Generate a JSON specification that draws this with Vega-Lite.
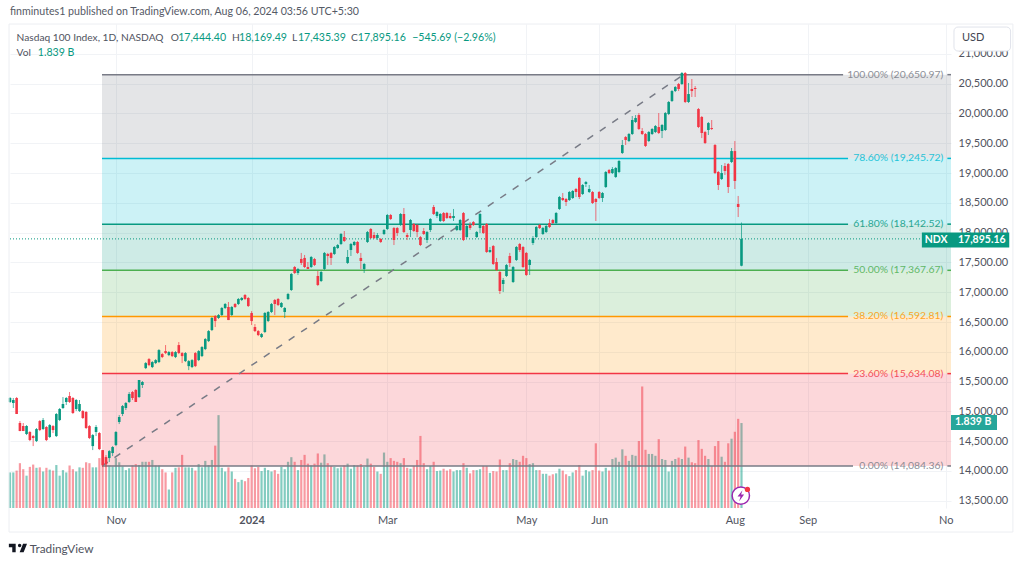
{"$schema":"https://vega.github.io/schema/vega-lite/v6.json","width":941,"height":484,"autosize":{"type":"none"},"padding":{"left":10,"top":24,"right":73,"bottom":56},"background":"#ffffff","config":{"view":{"stroke":null},"font":"Lato"},"title":{"text":"finminutes1 published on TradingView.com, Aug 06, 2024 03:56 UTC+5:30","anchor":"start","frame":"group","font":"Lato","fontSize":10.65,"fontWeight":"normal","color":"#555a66","offset":6},
"datasets":{"bars":[
{"bar":0,"open":15158,"high":15241,"low":15141,"close":15225,"volume":0.77},{"bar":1,"open":15141,"high":15225,"low":15057,"close":15191,"volume":0.77},{"bar":2,"open":15225,"high":15241,"low":14956,"close":14956,"volume":0.81},{"bar":3,"open":14805,"high":14838,"low":14670,"close":14670,"volume":0.97},{"bar":4,"open":14754,"high":14805,"low":14670,"close":14670,"volume":0.84},{"bar":5,"open":14620,"high":14771,"low":14603,"close":14754,"volume":0.7},{"bar":6,"open":14654,"high":14670,"low":14502,"close":14519,"volume":0.89},{"bar":7,"open":14586,"high":14603,"low":14418,"close":14553,"volume":0.94},{"bar":8,"open":14502,"high":14721,"low":14486,"close":14704,"volume":0.87},{"bar":9,"open":14838,"high":14855,"low":14670,"close":14687,"volume":0.88},
{"bar":10,"open":14704,"high":14889,"low":14687,"close":14855,"volume":0.79},{"bar":11,"open":14738,"high":14754,"low":14502,"close":14519,"volume":0.87},{"bar":12,"open":14570,"high":14788,"low":14553,"close":14771,"volume":0.83},{"bar":13,"open":14754,"high":14771,"low":14637,"close":14687,"volume":0.81},{"bar":14,"open":14586,"high":14973,"low":14570,"close":14956,"volume":0.93},{"bar":15,"open":14855,"high":15057,"low":14838,"close":15040,"volume":0.7},{"bar":16,"open":15057,"high":15241,"low":15040,"close":15124,"volume":0.82},{"bar":17,"open":15158,"high":15241,"low":15107,"close":15225,"volume":0.77},{"bar":18,"open":15258,"high":15325,"low":15141,"close":15158,"volume":0.92},{"bar":19,"open":15225,"high":15241,"low":14956,"close":14973,"volume":0.84},
{"bar":20,"open":15040,"high":15208,"low":15006,"close":15191,"volume":0.79},{"bar":21,"open":15006,"high":15191,"low":14990,"close":15124,"volume":0.88},{"bar":22,"open":15006,"high":15023,"low":14872,"close":14889,"volume":0.87},{"bar":23,"open":14990,"high":15006,"low":14704,"close":14721,"volume":0.99},{"bar":24,"open":14754,"high":14771,"low":14536,"close":14553,"volume":0.97},{"bar":25,"open":14418,"high":14620,"low":14351,"close":14603,"volume":0.88},{"bar":26,"open":14654,"high":14771,"low":14586,"close":14738,"volume":0.88},{"bar":27,"open":14637,"high":14654,"low":14351,"close":14368,"volume":1.08},{"bar":28,"open":14351,"high":14351,"low":14065,"close":14099,"volume":1.24},{"bar":29,"open":14234,"high":14267,"low":14065,"close":14116,"volume":1.02},
{"bar":30,"open":14217,"high":14351,"low":14150,"close":14334,"volume":0.92},{"bar":31,"open":14301,"high":14418,"low":14250,"close":14402,"volume":0.9},{"bar":32,"open":14435,"high":14670,"low":14418,"close":14654,"volume":1.08},{"bar":33,"open":14822,"high":14939,"low":14788,"close":14906,"volume":0.99},{"bar":34,"open":14956,"high":15107,"low":14922,"close":15090,"volume":0.9},{"bar":35,"open":15057,"high":15158,"low":15023,"close":15141,"volume":0.82},{"bar":36,"open":15158,"high":15325,"low":15141,"close":15292,"volume":0.86},{"bar":37,"open":15325,"high":15342,"low":15191,"close":15225,"volume":0.92},{"bar":38,"open":15359,"high":15376,"low":15158,"close":15158,"volume":0.95},{"bar":39,"open":15241,"high":15527,"low":15225,"close":15527,"volume":0.93},
{"bar":40,"open":15443,"high":15510,"low":15393,"close":15493,"volume":1.0},{"bar":41,"open":15727,"high":15828,"low":15710,"close":15811,"volume":1.0},{"bar":42,"open":15878,"high":15895,"low":15760,"close":15777,"volume":1.0},{"bar":43,"open":15744,"high":15844,"low":15727,"close":15828,"volume":1.04},{"bar":44,"open":15811,"high":15878,"low":15794,"close":15861,"volume":0.92},{"bar":45,"open":15828,"high":16046,"low":15811,"close":16029,"volume":0.92},{"bar":46,"open":15962,"high":15979,"low":15895,"close":15912,"volume":0.84},{"bar":47,"open":16012,"high":16113,"low":15962,"close":15979,"volume":0.77},{"bar":48,"open":15945,"high":16012,"low":15928,"close":15996,"volume":0.4},{"bar":49,"open":15996,"high":16012,"low":15912,"close":15928,"volume":0.77},
{"bar":50,"open":15912,"high":16012,"low":15895,"close":15996,"volume":0.87},{"bar":51,"open":16113,"high":16164,"low":15962,"close":15979,"volume":0.88},{"bar":52,"open":15979,"high":15996,"low":15811,"close":15928,"volume":1.15},{"bar":53,"open":15844,"high":15996,"low":15828,"close":15979,"volume":0.88},{"bar":54,"open":15760,"high":15861,"low":15693,"close":15844,"volume":0.88},{"bar":55,"open":15744,"high":15878,"low":15727,"close":15861,"volume":0.87},{"bar":56,"open":15979,"high":15996,"low":15744,"close":15760,"volume":0.81},{"bar":57,"open":15861,"high":16029,"low":15844,"close":16012,"volume":0.95},{"bar":58,"open":15928,"high":16096,"low":15912,"close":16080,"volume":0.88},{"bar":59,"open":16046,"high":16231,"low":16029,"close":16214,"volume":1.02},
{"bar":60,"open":16180,"high":16365,"low":16164,"close":16348,"volume":0.93},{"bar":61,"open":16365,"high":16584,"low":16348,"close":16567,"volume":1.04},{"bar":62,"open":16600,"high":16617,"low":16416,"close":16516,"volume":1.35},{"bar":63,"open":16567,"high":16634,"low":16550,"close":16617,"volume":2.01},{"bar":64,"open":16617,"high":16752,"low":16600,"close":16735,"volume":0.87},{"bar":65,"open":16735,"high":16819,"low":16718,"close":16802,"volume":0.79},{"bar":66,"open":16752,"high":16836,"low":16533,"close":16533,"volume":0.88},{"bar":67,"open":16617,"high":16768,"low":16600,"close":16752,"volume":0.79},{"bar":68,"open":16802,"high":16819,"low":16735,"close":16752,"volume":0.63},{"bar":69,"open":16802,"high":16903,"low":16785,"close":16886,"volume":0.56},
{"bar":70,"open":16869,"high":16920,"low":16852,"close":16903,"volume":0.61},{"bar":71,"open":16953,"high":16970,"low":16869,"close":16886,"volume":0.58},{"bar":72,"open":16903,"high":16920,"low":16752,"close":16768,"volume":0.65},{"bar":73,"open":16651,"high":16684,"low":16449,"close":16516,"volume":0.92},{"bar":74,"open":16416,"high":16466,"low":16332,"close":16348,"volume":0.86},{"bar":75,"open":16348,"high":16365,"low":16264,"close":16281,"volume":0.89},{"bar":76,"open":16248,"high":16315,"low":16231,"close":16298,"volume":0.8},{"bar":77,"open":16332,"high":16668,"low":16315,"close":16651,"volume":0.87},{"bar":78,"open":16516,"high":16684,"low":16500,"close":16668,"volume":0.82},{"bar":79,"open":16668,"high":16819,"low":16651,"close":16802,"volume":0.79},
{"bar":80,"open":16869,"high":16886,"low":16617,"close":16802,"volume":0.82},{"bar":81,"open":16886,"high":16903,"low":16768,"close":16785,"volume":0.74},{"bar":82,"open":16752,"high":16836,"low":16735,"close":16819,"volume":0.89},{"bar":83,"open":16668,"high":16752,"low":16567,"close":16735,"volume":0.84},{"bar":84,"open":16886,"high":16987,"low":16869,"close":16970,"volume":1.0},{"bar":85,"open":17037,"high":17323,"low":17020,"close":17306,"volume":1.1},{"bar":86,"open":17423,"high":17440,"low":17306,"close":17323,"volume":1.0},{"bar":87,"open":17323,"high":17407,"low":17289,"close":17390,"volume":0.82},{"bar":88,"open":17558,"high":17659,"low":17457,"close":17491,"volume":1.04},{"bar":89,"open":17575,"high":17625,"low":17406,"close":17423,"volume":1.15},
{"bar":90,"open":17423,"high":17507,"low":17390,"close":17390,"volume":0.96},{"bar":91,"open":17423,"high":17608,"low":17406,"close":17591,"volume":0.92},{"bar":92,"open":17558,"high":17575,"low":17440,"close":17457,"volume":0.96},{"bar":93,"open":17272,"high":17356,"low":17104,"close":17121,"volume":1.18},{"bar":94,"open":17188,"high":17356,"low":17171,"close":17339,"volume":0.98},{"bar":95,"open":17390,"high":17675,"low":17373,"close":17659,"volume":1.16},{"bar":96,"open":17642,"high":17659,"low":17457,"close":17608,"volume":0.97},{"bar":97,"open":17659,"high":17675,"low":17457,"close":17575,"volume":0.91},{"bar":98,"open":17642,"high":17775,"low":17625,"close":17759,"volume":0.89},{"bar":99,"open":17742,"high":17809,"low":17725,"close":17792,"volume":0.86},
{"bar":100,"open":17809,"high":17994,"low":17792,"close":17977,"volume":0.88},{"bar":101,"open":17926,"high":18027,"low":17843,"close":17859,"volume":0.92},{"bar":102,"open":17491,"high":17709,"low":17474,"close":17591,"volume":0.96},{"bar":103,"open":17709,"high":17826,"low":17608,"close":17809,"volume":0.85},{"bar":104,"open":17792,"high":17859,"low":17775,"close":17843,"volume":0.93},{"bar":105,"open":17843,"high":17859,"low":17642,"close":17659,"volume":0.92},{"bar":106,"open":17575,"high":17659,"low":17390,"close":17524,"volume":0.95},{"bar":107,"open":17390,"high":17491,"low":17323,"close":17474,"volume":0.89},{"bar":108,"open":17843,"high":18027,"low":17826,"close":18010,"volume":1.07},{"bar":109,"open":18061,"high":18077,"low":17893,"close":17910,"volume":0.96},
{"bar":110,"open":17960,"high":18010,"low":17893,"close":17910,"volume":0.89},{"bar":111,"open":17910,"high":17994,"low":17876,"close":17960,"volume":0.79},{"bar":112,"open":17893,"high":17910,"low":17826,"close":17843,"volume":0.74},{"bar":113,"open":17977,"high":18061,"low":17960,"close":18044,"volume":1.2},{"bar":114,"open":18061,"high":18313,"low":18044,"close":18296,"volume":1.0},{"bar":115,"open":18296,"high":18313,"low":18212,"close":18229,"volume":1.08},{"bar":116,"open":18077,"high":18094,"low":17792,"close":17876,"volume":1.02},{"bar":117,"open":18077,"high":18094,"low":17943,"close":17994,"volume":1.0},{"bar":118,"open":18128,"high":18329,"low":18111,"close":18313,"volume":0.97},{"bar":119,"open":18313,"high":18413,"low":17994,"close":18010,"volume":1.08},
{"bar":120,"open":17960,"high":17994,"low":17876,"close":17926,"volume":0.87},{"bar":121,"open":18044,"high":18229,"low":17926,"close":18212,"volume":0.85},{"bar":122,"open":18145,"high":18161,"low":18010,"close":18027,"volume":0.91},{"bar":123,"open":18128,"high":18145,"low":17926,"close":18010,"volume":1.04},{"bar":124,"open":17926,"high":17943,"low":17775,"close":17792,"volume":1.56},{"bar":125,"open":18027,"high":18077,"low":17960,"close":17977,"volume":0.97},{"bar":126,"open":17876,"high":18027,"low":17826,"close":18010,"volume":0.84},{"bar":127,"open":18044,"high":18245,"low":18010,"close":18229,"volume":0.91},{"bar":128,"open":18430,"high":18464,"low":18296,"close":18313,"volume":1.0},{"bar":129,"open":18279,"high":18363,"low":18245,"close":18346,"volume":0.8},
{"bar":130,"open":18195,"high":18329,"low":18178,"close":18313,"volume":0.81},{"bar":131,"open":18329,"high":18346,"low":18178,"close":18195,"volume":0.85},{"bar":132,"open":18329,"high":18346,"low":18229,"close":18245,"volume":0.81},{"bar":133,"open":18279,"high":18329,"low":18229,"close":18245,"volume":0.84},{"bar":134,"open":18245,"high":18397,"low":18195,"close":18279,"volume":0.79},{"bar":135,"open":18044,"high":18128,"low":18027,"close":18111,"volume":0.82},{"bar":136,"open":18044,"high":18229,"low":18027,"close":18212,"volume":0.82},{"bar":137,"open":18329,"high":18346,"low":17859,"close":17876,"volume":0.97},{"bar":138,"open":17926,"high":18128,"low":17910,"close":18111,"volume":0.87},{"bar":139,"open":18128,"high":18178,"low":18044,"close":18077,"volume":0.75},
{"bar":140,"open":18178,"high":18195,"low":18111,"close":18128,"volume":0.82},{"bar":141,"open":17926,"high":18027,"low":17910,"close":18010,"volume":0.82},{"bar":142,"open":18077,"high":18329,"low":17994,"close":18313,"volume":0.84},{"bar":143,"open":18111,"high":18128,"low":17977,"close":17994,"volume":0.91},{"bar":144,"open":18145,"high":18161,"low":17659,"close":17675,"volume":0.91},{"bar":145,"open":17675,"high":17759,"low":17659,"close":17709,"volume":0.76},{"bar":146,"open":17775,"high":17792,"low":17457,"close":17474,"volume":0.8},{"bar":147,"open":17507,"high":17575,"low":17356,"close":17373,"volume":0.79},{"bar":148,"open":17339,"high":17356,"low":16970,"close":17020,"volume":1.05},{"bar":149,"open":17138,"high":17239,"low":17003,"close":17205,"volume":0.82},
{"bar":150,"open":17272,"high":17474,"low":17255,"close":17457,"volume":0.82},{"bar":151,"open":17608,"high":17659,"low":17423,"close":17491,"volume":0.97},{"bar":152,"open":17171,"high":17440,"low":17155,"close":17423,"volume":1.06},{"bar":153,"open":17541,"high":17775,"low":17524,"close":17759,"volume":1.04},{"bar":154,"open":17809,"high":17826,"low":17675,"close":17709,"volume":1.0},{"bar":155,"open":17759,"high":17775,"low":17407,"close":17423,"volume":1.13},{"bar":156,"open":17659,"high":17675,"low":17272,"close":17289,"volume":1.08},{"bar":157,"open":17457,"high":17558,"low":17289,"close":17541,"volume":0.95},{"bar":158,"open":17826,"high":17943,"low":17792,"close":17910,"volume":0.97},{"bar":159,"open":17926,"high":18111,"low":17910,"close":18094,"volume":0.82},
{"bar":160,"open":18128,"high":18145,"low":18061,"close":18077,"volume":0.82},{"bar":161,"open":17977,"high":18094,"low":17960,"close":18077,"volume":0.74},{"bar":162,"open":18010,"high":18128,"low":17994,"close":18111,"volume":0.74},{"bar":163,"open":18161,"high":18229,"low":18077,"close":18094,"volume":0.7},{"bar":164,"open":18212,"high":18229,"low":18145,"close":18161,"volume":0.73},{"bar":165,"open":18161,"high":18346,"low":18145,"close":18329,"volume":0.75},{"bar":166,"open":18397,"high":18615,"low":18380,"close":18598,"volume":0.85},{"bar":167,"open":18581,"high":18665,"low":18531,"close":18547,"volume":0.81},{"bar":168,"open":18564,"high":18581,"low":18447,"close":18514,"volume":0.73},{"bar":169,"open":18547,"high":18699,"low":18531,"close":18682,"volume":0.69},
{"bar":170,"open":18581,"high":18715,"low":18564,"close":18699,"volume":0.77},{"bar":171,"open":18732,"high":18749,"low":18598,"close":18682,"volume":0.82},{"bar":172,"open":18917,"high":18934,"low":18564,"close":18598,"volume":0.93},{"bar":173,"open":18648,"high":18816,"low":18631,"close":18799,"volume":0.7},{"bar":174,"open":18816,"high":18866,"low":18766,"close":18849,"volume":0.82},{"bar":175,"open":18682,"high":18799,"low":18665,"close":18732,"volume":0.79},{"bar":176,"open":18682,"high":18699,"low":18480,"close":18497,"volume":0.82},{"bar":177,"open":18564,"high":18581,"low":18195,"close":18514,"volume":1.4},{"bar":178,"open":18682,"high":18699,"low":18564,"close":18581,"volume":0.81},{"bar":179,"open":18581,"high":18682,"low":18514,"close":18665,"volume":0.79},
{"bar":180,"open":18766,"high":19034,"low":18749,"close":19017,"volume":0.87},{"bar":181,"open":19051,"high":19068,"low":18983,"close":19000,"volume":0.81},{"bar":182,"open":19000,"high":19101,"low":18983,"close":19068,"volume":1.06},{"bar":183,"open":18934,"high":19101,"low":18917,"close":19084,"volume":1.09},{"bar":184,"open":19017,"high":19218,"low":19000,"close":19202,"volume":1.0},{"bar":185,"open":19336,"high":19554,"low":19319,"close":19470,"volume":1.27},{"bar":186,"open":19604,"high":19621,"low":19470,"close":19554,"volume":1.13},{"bar":187,"open":19537,"high":19672,"low":19520,"close":19655,"volume":1.02},{"bar":188,"open":19655,"high":19957,"low":19638,"close":19890,"volume":1.15},{"bar":189,"open":19856,"high":19973,"low":19839,"close":19923,"volume":1.13},
{"bar":190,"open":19973,"high":20007,"low":19722,"close":19739,"volume":1.45},{"bar":191,"open":19705,"high":19755,"low":19638,"close":19655,"volume":2.63},{"bar":192,"open":19655,"high":19672,"low":19437,"close":19454,"volume":1.26},{"bar":193,"open":19537,"high":19705,"low":19520,"close":19688,"volume":1.17},{"bar":194,"open":19655,"high":19755,"low":19638,"close":19739,"volume":1.17},{"bar":195,"open":19688,"high":19806,"low":19671,"close":19789,"volume":1.13},{"bar":196,"open":19772,"high":20007,"low":19655,"close":19672,"volume":1.49},{"bar":197,"open":19705,"high":19823,"low":19587,"close":19806,"volume":1.06},{"bar":198,"open":19722,"high":20024,"low":19705,"close":20007,"volume":1.04},{"bar":199,"open":19990,"high":20209,"low":19973,"close":20192,"volume":0.79},
{"bar":200,"open":20209,"high":20393,"low":20192,"close":20376,"volume":1.02},{"bar":201,"open":20376,"high":20460,"low":20359,"close":20443,"volume":1.06},{"bar":202,"open":20494,"high":20511,"low":20376,"close":20410,"volume":1.09},{"bar":203,"open":20494,"high":20695,"low":20477,"close":20678,"volume":1.06},{"bar":204,"open":20678,"high":20695,"low":20175,"close":20192,"volume":1.33},{"bar":205,"open":20192,"high":20511,"low":20175,"close":20326,"volume":1.09},{"bar":206,"open":20410,"high":20578,"low":20276,"close":20376,"volume":0.99},{"bar":207,"open":20427,"high":20460,"low":20276,"close":20410,"volume":0.97},{"bar":208,"open":20074,"high":20091,"low":19755,"close":19772,"volume":1.47},{"bar":209,"open":19940,"high":19957,"low":19587,"close":19672,"volume":1.28},
{"bar":210,"open":19688,"high":19705,"low":19487,"close":19504,"volume":1.13},{"bar":211,"open":19722,"high":19856,"low":19638,"close":19839,"volume":1.06},{"bar":212,"open":19755,"high":19890,"low":19722,"close":19739,"volume":0.91},{"bar":213,"open":19470,"high":19487,"low":18983,"close":19000,"volume":1.34},{"bar":214,"open":19017,"high":19034,"low":18715,"close":18799,"volume":1.45},{"bar":215,"open":18900,"high":19135,"low":18883,"close":19000,"volume":1.11},{"bar":216,"open":19118,"high":19168,"low":18967,"close":19034,"volume":1.0},{"bar":217,"open":19151,"high":19168,"low":18665,"close":18766,"volume":1.4},{"bar":218,"open":19185,"high":19420,"low":19168,"close":19369,"volume":1.5},{"bar":219,"open":19369,"high":19537,"low":18732,"close":18866,"volume":1.65},
{"bar":220,"open":18480,"high":18615,"low":18262,"close":18430,"volume":1.93},{"bar":221,"open":17444.4,"high":18169.49,"low":17435.39,"close":17895.16,"volume":1.839}
],
"zones":[{"level":"100.00%","bar":27.8,"end":284.3,"upper":20650.97,"lower":19245.72},{"level":"78.60%","bar":27.8,"end":284.3,"upper":19245.72,"lower":18142.52},{"level":"61.80%","bar":27.8,"end":284.3,"upper":18142.52,"lower":17367.67},{"level":"50.00%","bar":27.8,"end":284.3,"upper":17367.67,"lower":16592.81},{"level":"38.20%","bar":27.8,"end":284.3,"upper":16592.81,"lower":15634.08},{"level":"23.60%","bar":27.8,"end":284.3,"upper":15634.08,"lower":14084.36}],
"levels":[{"level":"100.00%","bar":27.8,"price":20650.97,"label":"100.00% (20,650.97)","lineEnd":251.7,"labelBar":282,"tickBar":283.2,"tickEnd":284.3},{"level":"78.60%","bar":27.8,"price":19245.72,"label":"78.60% (19,245.72)","lineEnd":253.2,"labelBar":282,"tickBar":283.2,"tickEnd":284.3},{"level":"61.80%","bar":27.8,"price":18142.52,"label":"61.80% (18,142.52)","lineEnd":253.2,"labelBar":282,"tickBar":283.2,"tickEnd":284.3},{"level":"50.00%","bar":27.8,"price":17367.67,"label":"50.00% (17,367.67)","lineEnd":253.2,"labelBar":282,"tickBar":283.2,"tickEnd":284.3},{"level":"38.20%","bar":27.8,"price":16592.81,"label":"38.20% (16,592.81)","lineEnd":253.2,"labelBar":282,"tickBar":283.2,"tickEnd":284.3},{"level":"23.60%","bar":27.8,"price":15634.08,"label":"23.60% (15,634.08)","lineEnd":253.2,"labelBar":282,"tickBar":283.2,"tickEnd":284.3},{"level":"0.00%","bar":27.8,"price":14084.36,"label":"0.00% (14,084.36)","lineEnd":254.7,"labelBar":282,"tickBar":283.2,"tickEnd":284.3}],
"trend":[{"bar":27.8,"price":14084.36},{"bar":203.5,"price":20650.97}],
"headerNames":[{"bar":2,"price":21266,"label":"Nasdaq 100 Index, 1D, NASDAQ"},{"bar":48.6,"price":21266,"label":"O"},{"bar":67.1,"price":21266,"label":"H"},{"bar":85.2,"price":21266,"label":"L"},{"bar":103,"price":21266,"label":"C"},{"bar":2,"price":21014,"label":"Vol"}],
"headerValues":[{"bar":50.8,"price":21266,"label":"17,444.40"},{"bar":69.2,"price":21266,"label":"18,169.49"},{"bar":87,"price":21266,"label":"17,435.39"},{"bar":105.1,"price":21266,"label":"17,895.16"},{"bar":121.5,"price":21266,"label":"−545.69 (−2.96%)"},{"bar":8.4,"price":21014,"label":"1.839 B"}]
},
"encoding":{"x":{"field":"bar","type":"quantitative","scale":{"domain":[0,284.3],"nice":false,"zero":false,"padding":0},"axis":{"orient":"bottom","title":null,"domain":false,"ticks":false,"grid":true,"gridColor":"#f1f3f6","values":[32,73,114,156,178,219,241,282.7],"labelExpr":"{'32':'Nov','73':'2024','114':'Mar','156':'May','178':'Jun','219':'Aug','241':'Sep','282.7':'No'}[datum.value]","labelFontWeight":{"condition":{"test":"datum.value==73","value":"bold"},"value":"normal"},"labelColor":"#50535e","labelFont":"Lato","labelFontSize":11,"labelPadding":6,"labelBound":false,"labelFlush":false,"labelOverlap":false}}},
"layer":[
{"data":{"name":"bars"},"mark":{"type":"bar","orient":"vertical","size":2.2,"opacity":0.5},"encoding":{"y":{"field":"volume","type":"quantitative","stack":null,"scale":{"domain":[0,10.476],"nice":false},"axis":null},"color":{"condition":{"test":"datum.close>=datum.open","value":"#089981"},"value":"#f23645"}}},
{"encoding":{"y":{"field":"price","type":"quantitative","scale":{"domain":[13379,21501],"nice":false,"zero":false},"axis":{"orient":"right","title":null,"domain":false,"ticks":false,"grid":true,"gridColor":"#f1f3f6","values":[13500,14000,14500,15000,15500,16000,16500,17000,17500,18000,18500,19000,19500,20000,20500,21000],"format":",.2f","labelColor":"#50535e","labelFont":"Lato","labelFontSize":11,"labelPadding":7,"labelBound":false}},"color":{"field":"level","type":"nominal","legend":null,"scale":{"domain":["100.00%","78.60%","61.80%","50.00%","38.20%","23.60%","0.00%"],"range":["#787b86","#00bcd4","#089981","#4caf50","#ff9800","#f23645","#787b86"]}}},
"layer":[
{"data":{"name":"zones"},"mark":{"type":"rect","opacity":0.2},"encoding":{"x2":{"field":"end"},"y":{"field":"upper","type":"quantitative"},"y2":{"field":"lower"}}},
{"data":{"name":"levels"},"mark":{"type":"rule","strokeWidth":1.5},"encoding":{"x2":{"field":"lineEnd"}}},
{"data":{"name":"levels"},"mark":{"type":"rule","strokeWidth":1.5},"encoding":{"x":{"field":"tickBar","type":"quantitative"},"x2":{"field":"tickEnd"}}},
{"data":{"name":"levels"},"mark":{"type":"text","align":"right","baseline":"middle","fontSize":10.4,"opacity":0.85},"encoding":{"x":{"field":"labelBar","type":"quantitative"},"text":{"field":"label"}}},
{"data":{"name":"trend"},"mark":{"type":"line","strokeWidth":1.5,"strokeDash":[7,8]},"encoding":{"color":{"value":"#787b86"}}},
{"data":{"values":[{"bar":0,"end":275.5,"price":17895.16}]},"mark":{"type":"rule","strokeWidth":1,"strokeDash":[1,2]},"encoding":{"x2":{"field":"end"},"color":{"value":"#089981"}}},
{"data":{"name":"bars"},"mark":{"type":"rule","strokeWidth":1,"opacity":0.7},"encoding":{"y":{"field":"low","type":"quantitative"},"y2":{"field":"high"},"color":{"condition":{"test":"datum.close>=datum.open","value":"#089981"},"value":"#f23645"}}},
{"data":{"name":"bars"},"mark":{"type":"bar","orient":"vertical","size":2.6},"encoding":{"y":{"field":"open","type":"quantitative"},"y2":{"field":"close"},"color":{"condition":{"test":"datum.close>=datum.open","value":"#089981"},"value":"#f23645"}}},
{"data":{"values":[{"bar":275.5,"end":301.9,"top":18002,"bottom":17750}]},"mark":{"type":"rect"},"encoding":{"x2":{"field":"end"},"y":{"field":"top","type":"quantitative"},"y2":{"field":"bottom"},"color":{"value":"#089981"}}},
{"data":{"values":[{"bar":284.3,"end":298.2,"top":14939,"bottom":14688}]},"mark":{"type":"rect"},"encoding":{"x2":{"field":"end"},"y":{"field":"top","type":"quantitative"},"y2":{"field":"bottom"},"color":{"value":"#26a69a"}}},
{"data":{"values":[{"bar":279.8,"price":17876,"label":"NDX"},{"bar":293.6,"price":17876,"label":"17,895.16"},{"bar":291,"price":14814,"label":"1.839 B"}]},"mark":{"type":"text","baseline":"middle","fontSize":10.5,"fontWeight":"bold"},"encoding":{"text":{"field":"label"},"color":{"value":"#ffffff"}}},
{"data":{"values":[{"bar":285.2,"end":302.3,"top":21450,"bottom":21047}]},"mark":{"type":"rect","strokeWidth":1,"cornerRadius":4},"encoding":{"x2":{"field":"end"},"y":{"field":"top","type":"quantitative"},"y2":{"field":"bottom"},"color":{"value":"#ffffff"},"stroke":{"value":"#e0e3eb"}}},
{"data":{"values":[{"bar":287.6,"price":21266,"label":"USD"}]},"mark":{"type":"text","align":"left","baseline":"middle","fontSize":11},"encoding":{"text":{"field":"label"},"color":{"value":"#434651"}}},
{"data":{"name":"headerNames"},"mark":{"type":"text","align":"left","baseline":"middle","fontSize":10.2},"encoding":{"text":{"field":"label"},"color":{"value":"#50535e"}}},
{"data":{"name":"headerValues"},"mark":{"type":"text","align":"left","baseline":"middle","fontSize":10.6},"encoding":{"text":{"field":"label"},"color":{"value":"#089981"}}},
{"data":{"values":[{"bar":-0.3,"end":303,"top":21501,"bottom":12976}]},"mark":{"type":"rect","filled":false,"strokeWidth":1},"encoding":{"x2":{"field":"end"},"y":{"field":"top","type":"quantitative"},"y2":{"field":"bottom"},"color":{"value":"#eceef2"}}},
{"data":{"values":[{"bar":220.8,"price":13586}]},"mark":{"type":"point","shape":"circle","filled":true,"strokeWidth":1.5,"opacity":1,"size":300},"encoding":{"color":{"value":"#ffffff"},"stroke":{"value":"#9c27b0"}}},
{"data":{"values":[{"bar":220.8,"price":13586}]},"mark":{"type":"point","shape":"M.3 -1 L-.6 .15 L-.05 .15 L-.3 1 L.6 -.2 L.05 -.2 Z","filled":true,"opacity":1,"size":120},"encoding":{"color":{"value":"#9c27b0"}}},
{"data":{"values":[{"bar":222.8,"price":13690}]},"mark":{"type":"point","shape":"circle","filled":true,"opacity":1,"size":28},"encoding":{"color":{"value":"#f23645"}}},
{"data":{"values":[{"bar":2.4,"price":12708}]},"mark":{"type":"point","shape":"M-.25 -.469 L-1 -.469 L-1 -.094 L-.625 -.094 L-.625 .469 L-.25 .469 Z M.625 .469 L.1875 .469 L.5625 -.469 L1 -.469 Z M0 -.281 A.1875 .1875 0 1 0 .375 -.281 A.1875 .1875 0 1 0 0 -.281 Z","filled":true,"opacity":1,"size":330},"encoding":{"color":{"value":"#131722"}}},
{"data":{"values":[{"bar":6,"price":12695,"label":"TradingView"}]},"mark":{"type":"text","align":"left","baseline":"middle","fontSize":11.8},"encoding":{"text":{"field":"label"},"color":{"value":"#50535e"}}}
]}
],
"resolve":{"scale":{"y":"independent"}}}
